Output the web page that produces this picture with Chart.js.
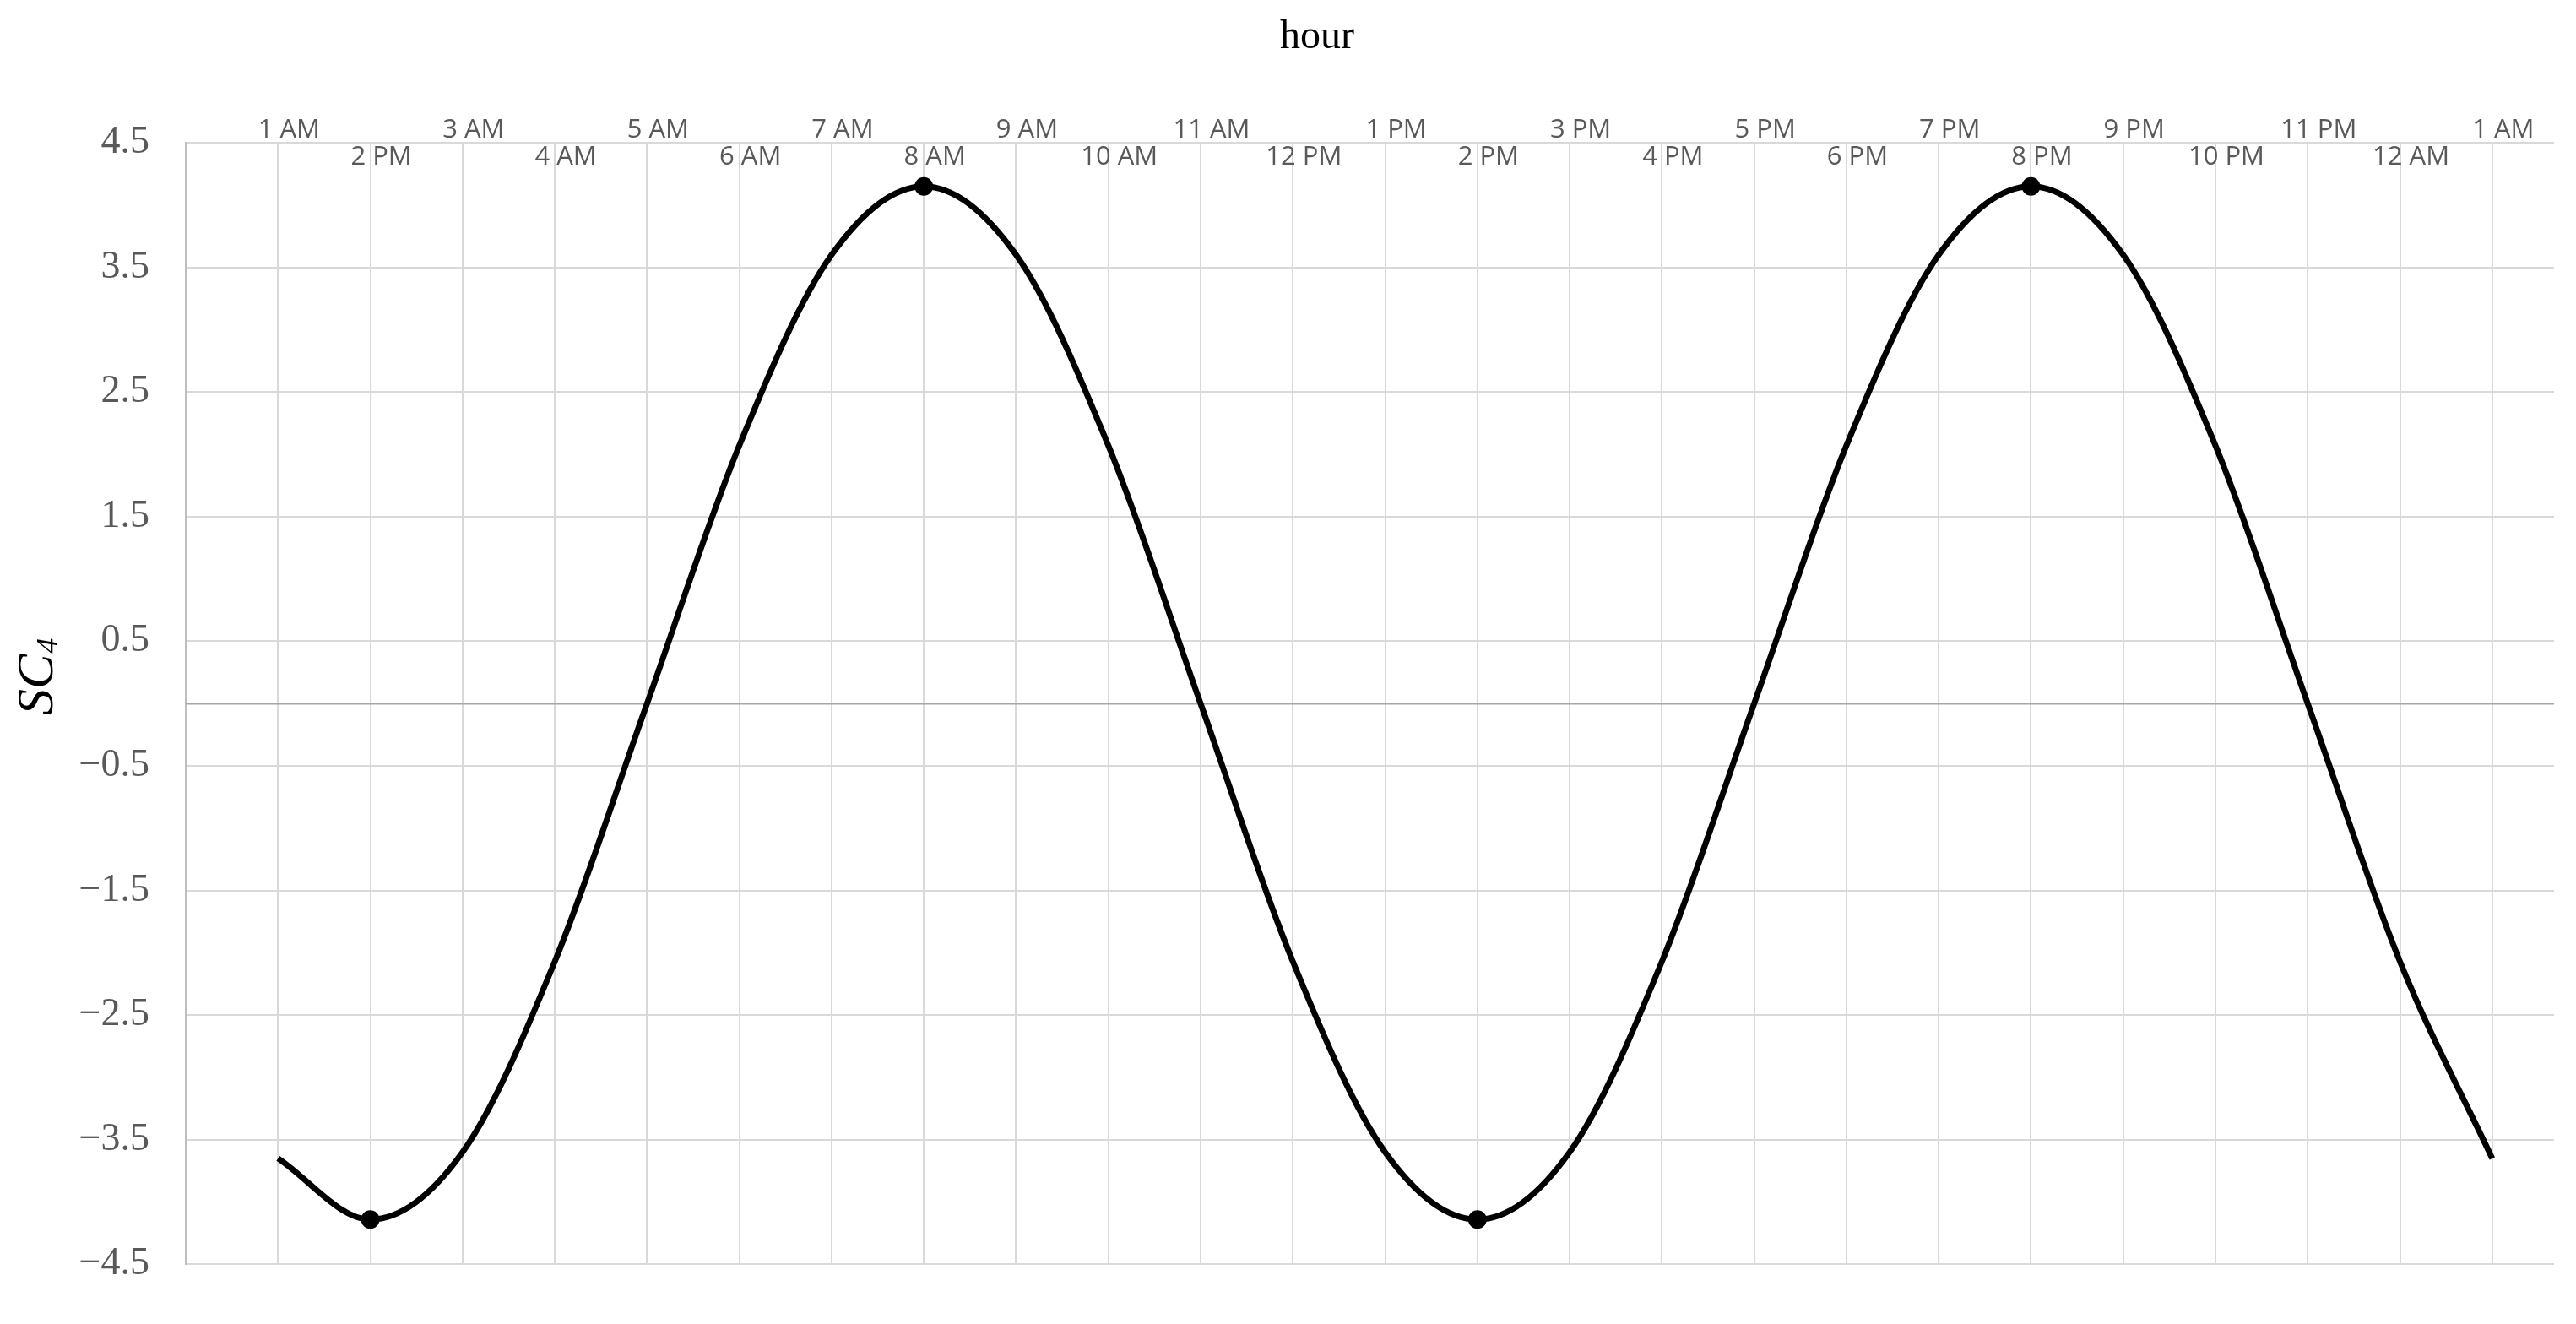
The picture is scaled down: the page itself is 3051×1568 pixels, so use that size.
<!DOCTYPE html>
<html>
<head>
<meta charset="utf-8">
<script src="https://cdn.jsdelivr.net/npm/chart.js@4/dist/chart.umd.min.js"></script>
<style>
html,body{margin:0;padding:0;background:#fff;}
#wrap{width:3051px;height:1568px;}
</style>
</head>
<body>
<div id="wrap"><canvas id="c" width="3051" height="1568"></canvas></div>
<script>
// ---- data ----
const hourLabels = ['1 AM','2 PM','3 AM','4 AM','5 AM','6 AM','7 AM','8 AM','9 AM','10 AM','11 AM','12 PM',
                    '1 PM','2 PM','3 PM','4 PM','5 PM','6 PM','7 PM','8 PM','9 PM','10 PM','11 PM','12 AM','1 AM'];
const sc4Values = [-3.65,-4.14,-3.6,-2.07,0,2.07,3.6,4.15,3.6,2.07,0,-2.07,
                   -3.6,-4.14,-3.6,-2.07,0,2.07,3.6,4.15,3.6,2.07,0,-2.07,-3.65];
const markedIdx = [1,7,13,19];
const xTitle = 'hour';
const yTitleMain = 'SC';
const yTitleSub = '4';

const decor = {
  id: 'decor',
  beforeDatasetsDraw(chart) {
    const {ctx, chartArea: a, scales: {y}} = chart;
    const py = y.getPixelForValue(0);
    ctx.save();
    ctx.strokeStyle = '#a6a6a6';
    ctx.lineWidth = 2.5;
    ctx.beginPath();
    ctx.moveTo(a.left, py);
    ctx.lineTo(a.right, py);
    ctx.stroke();
    ctx.restore();
  },
  afterDraw(chart) {
    const ctx = chart.ctx;
    ctx.save();
    ctx.fillStyle = '#000';
    ctx.font = '48px "Liberation Serif"';
    ctx.textAlign = 'center';
    ctx.textBaseline = 'alphabetic';
    ctx.fillText(xTitle, 1560, 57);
    ctx.restore();

    ctx.save();
    ctx.translate(62, 847);
    ctx.rotate(-Math.PI / 2);
    ctx.fillStyle = '#000';
    ctx.textAlign = 'left';
    ctx.textBaseline = 'alphabetic';
    ctx.font = 'italic 62px "Liberation Serif"';
    ctx.fillText(yTitleMain, 0, 0);
    const w = ctx.measureText(yTitleMain).width;
    ctx.font = 'italic 36px "Liberation Serif"';
    ctx.fillText(yTitleSub, w + 1, 6);
    ctx.restore();
  }
};

new Chart(document.getElementById('c'), {
  type: 'line',
  data: {
    datasets: [{
      data: hourLabels.map((l, i) => ({x: i, y: sc4Values[i]})),
      borderColor: '#000',
      borderWidth: 7,
      cubicInterpolationMode: 'monotone',
      fill: false,
      pointRadius: c => markedIdx.includes(c.dataIndex) ? 11 : 0,
      pointHoverRadius: 0,
      pointBackgroundColor: '#000',
      pointBorderWidth: 0
    }]
  },
  options: {
    responsive: false,
    animation: false,
    devicePixelRatio: 1,
    events: [],
    layout: {padding: {left: 0, right: 26, top: 0, bottom: 41}},
    plugins: {legend: {display: false}, tooltip: {enabled: false}, title: {display: false}},
    scales: {
      x: {
        type: 'linear',
        position: 'top',
        min: -1,
        max: 24.67,
        afterBuildTicks: ax => { ax.ticks = [-1].concat(hourLabels.map((l, i) => i)).map(v => ({value: v})); },
        afterFit: ax => { ax.height = 169; },
        ticks: {
          autoSkip: false,
          maxRotation: 0,
          minRotation: 0,
          labelOffset: 13,
          mirror: true,
          padding: -63,
          color: '#595959',
          font: {family: '"Open Sans"', size: 31, lineHeight: 32 / 31},
          callback: v => {
            const i = Math.round(v);
            if (i < 0 || i >= hourLabels.length) return '';
            return i % 2 === 0 ? [hourLabels[i], ''] : ['', hourLabels[i]];
          }
        },
        grid: {
          color: c => (c.tick && Math.round(c.tick.value) === -1) ? 'rgba(0,0,0,0)' : '#d9d9d9',
          lineWidth: 2,
          drawTicks: false
        },
        border: {display: false}
      },
      y: {
        min: -4.5,
        max: 4.5,
        afterFit: ax => { ax.width = 220; },
        ticks: {
          stepSize: 1,
          padding: 43,
          color: '#595959',
          font: {family: '"Liberation Serif"', size: 46},
          callback: v => (v < 0 ? '\u2212' : '') + Math.abs(v).toFixed(1)
        },
        grid: {color: '#d9d9d9', lineWidth: 2, drawTicks: false},
        border: {color: '#bfbfbf', width: 2}
      }
    }
  },
  plugins: [decor]
});
</script>
</body>
</html>
